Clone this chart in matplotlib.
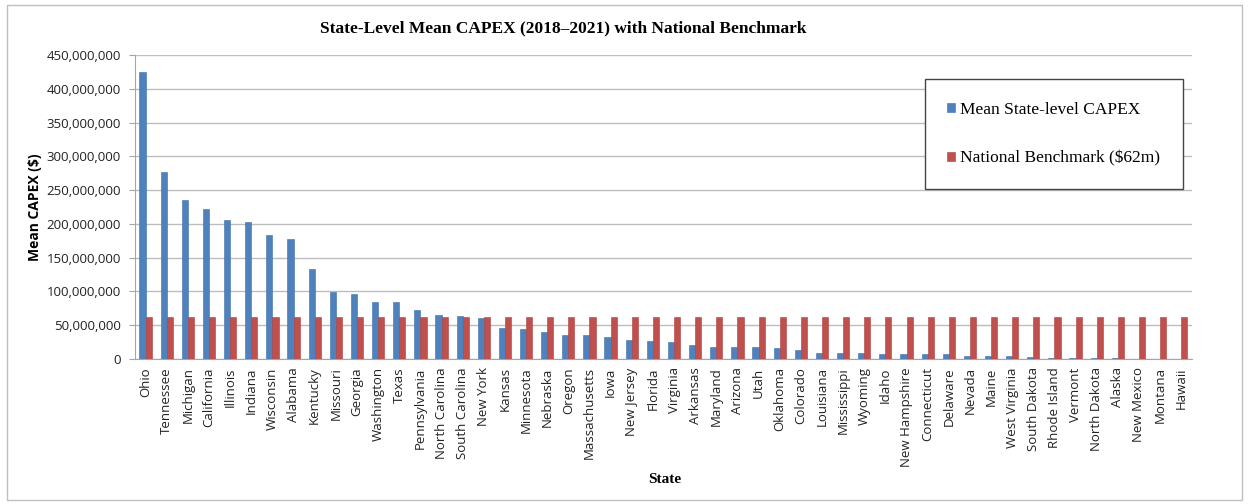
import matplotlib.pyplot as plt
import matplotlib.ticker as mticker
import numpy as np

# Mean CAPEX per state, 2018-2021 (dollars, read in millions)
states = ['Ohio', 'Tennessee', 'Michigan', 'California', 'Illinois', 'Indiana',
          'Wisconsin', 'Alabama', 'Kentucky', 'Missouri', 'Georgia', 'Washington',
          'Texas', 'Pennsylvania', 'North Carolina', 'South Carolina', 'New York',
          'Kansas', 'Minnesota', 'Nebraska', 'Oregon', 'Massachusetts', 'Iowa',
          'New Jersey', 'Florida', 'Virginia', 'Arkansas', 'Maryland', 'Arizona',
          'Utah', 'Oklahoma', 'Colorado', 'Louisiana', 'Mississippi', 'Wyoming',
          'Idaho', 'New Hampshire', 'Connecticut', 'Delaware', 'Nevada', 'Maine',
          'West Virginia', 'South Dakota', 'Rhode Island', 'Vermont', 'North Dakota',
          'Alaska', 'New Mexico', 'Montana', 'Hawaii']
capex_m = [425, 277, 236, 222, 205, 203,
           183, 177, 133, 99, 96, 84,
           84, 72, 65, 64, 61,
           46, 45, 40, 35, 35, 32,
           28, 26, 25, 21, 18, 17.5,
           17.5, 16.5, 14, 9, 9, 8.5,
           7.6, 7.6, 7.6, 7.6, 5, 5,
           4, 3, 2, 1.5, 1,
           1, 0.5, 0.3, 0.2]
benchmark_m = 62

capex = np.array(capex_m) * 1e6
bench = np.full(len(states), benchmark_m * 1e6)

blue = '#4F81BD'
red = '#C0504D'
grid_col = '#BDBDBD'

fig = plt.figure(figsize=(12.48, 5.04), dpi=100)
ax = fig.add_axes([0.1082, 0.2877, 0.955 - 0.1082, 0.891 - 0.2877])

x = np.arange(len(states))
w = 0.29
ax.bar(x - w / 2, capex, width=w, color=blue, edgecolor='#3F6FA8', linewidth=0.4,
       label='Mean State-level CAPEX', zorder=3)
ax.bar(x + w / 2, bench, width=w, color=red, edgecolor='#A8403D', linewidth=0.4,
       label='National Benchmark ($62m)', zorder=3)

ax.set_xlim(-0.5, len(states) - 0.5)
ax.set_ylim(0, 450e6)
ax.yaxis.set_major_locator(mticker.MultipleLocator(50e6))
ax.yaxis.set_major_formatter(mticker.FuncFormatter(lambda v, p: f'{v:,.0f}'))
ax.grid(axis='y', color=grid_col, linewidth=1.0, zorder=0)

for s in ['top', 'right']:
    ax.spines[s].set_visible(False)
for s in ['left', 'bottom']:
    ax.spines[s].set_color('#A6A6A6')

ax.set_xticks(x)
ax.set_xticklabels(states, rotation=90, fontsize=9.5, family='Open Sans', color='#222222')
ax.tick_params(axis='x', length=0, pad=6)
ax.tick_params(axis='y', length=4, color='#A6A6A6', labelsize=9.5, pad=6)
for t in ax.get_yticklabels():
    t.set_family('Open Sans')
    t.set_color('#222222')

ax.set_ylabel('Mean CAPEX ($)', fontsize=10, fontweight='bold', family='Open Sans', labelpad=3)
fig.text(0.533, 0.048, 'State', ha='center', va='center', fontsize=11,
         fontweight='bold', family='Liberation Serif')
fig.text(0.451, 0.944, 'State-Level Mean CAPEX (2018\u20132021) with National Benchmark',
         ha='center', va='center', fontsize=12.5, fontweight='bold', family='Liberation Serif')

leg = ax.legend(loc='upper right', bbox_to_anchor=(1183 / 1248, 1 - 79 / 504),
                bbox_transform=fig.transFigure, borderaxespad=0,
                prop={'family': 'Liberation Serif', 'size': 12.5},
                handlelength=0.45, handleheight=0.45, handletextpad=0.3,
                labelspacing=1.9, borderpad=1.3, fancybox=False, framealpha=1)
leg.get_frame().set_edgecolor('#444444')
leg.get_frame().set_linewidth(1.0)

# outer frame around the whole chart
fig.patches.append(plt.Rectangle((7 / 1248, 4 / 504), 1235 / 1248, 495 / 504,
                                 transform=fig.transFigure, fill=False,
                                 edgecolor='#BFBFBF', linewidth=1.0))

fig.savefig('out.png', dpi=100)
